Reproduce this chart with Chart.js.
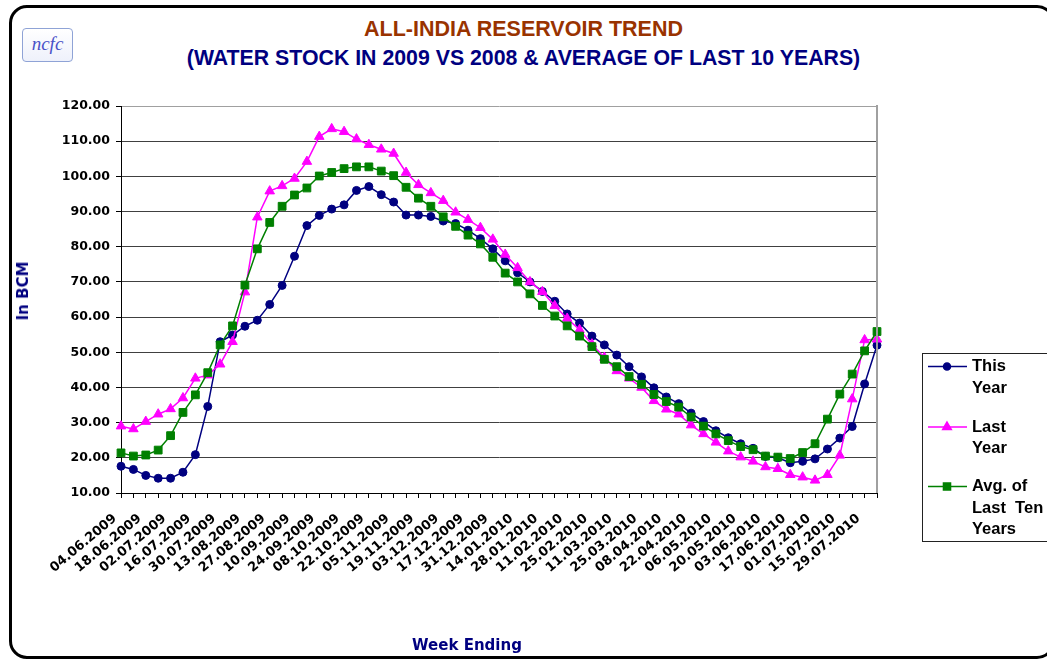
<!DOCTYPE html>
<html>
<head>
<meta charset="utf-8">
<script src="https://cdn.jsdelivr.net/npm/chart.js@4"></script>
<style>
  body { margin: 0; background: #fff; }
  #page { position: relative; width: 1047px; height: 659px; overflow: hidden; background: #fff; }
  #frame { position: absolute; left: 9px; top: 5px; width: 1040px; height: 648px; border: 3px solid #000; border-radius: 18px; }
  #logo { position: absolute; left: 22px; top: 28px; width: 49px; height: 32px; border: 1px solid #8fa3d6; border-radius: 4px;
    background: linear-gradient(#ffffff, #eef1fb); font: italic 19px "Liberation Serif", "DejaVu Serif", serif; color: #4a52c8;
    text-align: center; line-height: 30px; }
  .title { position: absolute; left: 0; width: 1047px; text-align: center; font-family: "Liberation Sans", Arial, sans-serif; font-weight: bold; white-space: nowrap; }
  #t1 { top: 16px; font-size: 21.5px; color: #993300; line-height: 26px; }
  #t2 { top: 45px; font-size: 21.3px; color: #000080; line-height: 26px; }
  #ytitle { position: absolute; left: 23px; top: 291px; transform: translate(-50%, -50%) rotate(-90deg); font: bold 15px "DejaVu Sans", sans-serif; color: #000080; white-space: nowrap; }
  #xtitle { position: absolute; left: 467px; top: 645px; transform: translate(-50%, -50%); font: bold 15px "DejaVu Sans", sans-serif; color: #000080; white-space: nowrap; }
  canvas { position: absolute; left: 0; top: 0; }
</style>
</head>
<body>
<div id="page">
  <div id="frame"></div>
  <div id="logo">ncfc</div>
  <div class="title" id="t1">ALL-INDIA RESERVOIR TREND</div>
  <div class="title" id="t2">(WATER STOCK IN 2009 VS 2008 &amp; AVERAGE OF LAST 10 YEARS)</div>
  <canvas id="reservoir-chart" width="1047" height="659"></canvas>
  <div id="ytitle">In BCM</div>
  <div id="xtitle">Week Ending</div>
</div>
<script>
const weeks = [
  "04.06.2009", "11.06.2009", "18.06.2009", "25.06.2009", "02.07.2009", "09.07.2009",
  "16.07.2009", "23.07.2009", "30.07.2009", "06.08.2009", "13.08.2009", "20.08.2009",
  "27.08.2009", "03.09.2009", "10.09.2009", "17.09.2009", "24.09.2009", "01.10.2009",
  "08.10.2009", "15.10.2009", "22.10.2009", "29.10.2009", "05.11.2009", "12.11.2009",
  "19.11.2009", "26.11.2009", "03.12.2009", "10.12.2009", "17.12.2009", "24.12.2009",
  "31.12.2009", "07.01.2010", "14.01.2010", "21.01.2010", "28.01.2010", "04.02.2010",
  "11.02.2010", "18.02.2010", "25.02.2010", "04.03.2010", "11.03.2010", "18.03.2010",
  "25.03.2010", "01.04.2010", "08.04.2010", "15.04.2010", "22.04.2010", "29.04.2010",
  "06.05.2010", "13.05.2010", "20.05.2010", "27.05.2010", "03.06.2010", "10.06.2010",
  "17.06.2010", "24.06.2010", "01.07.2010", "08.07.2010", "15.07.2010", "22.07.2010",
  "29.07.2010", "05.08.2010"];

const thisYear = [
  17.6, 16.7, 15.0, 14.2, 14.2, 15.9, 20.9, 34.6, 53.0, 54.9,
  57.4, 59.1, 63.6, 69.0, 77.3, 86.0, 88.9, 90.7, 91.9, 96.0,
  97.1, 94.8, 92.7, 89.0, 89.0, 88.6, 87.3, 86.6, 84.7, 82.3,
  79.4, 76.0, 72.6, 70.0, 67.3, 64.5, 60.9, 58.3, 54.6, 52.1,
  49.2, 45.9, 43.0, 39.9, 37.3, 35.4, 32.7, 30.3, 27.7, 25.7,
  24.0, 22.7, 20.4, 20.0, 18.6, 19.0, 19.7, 22.5, 25.6, 28.9,
  41.0, 52.0];

const lastYear = [
  29.0, 28.2, 30.3, 32.4, 33.9, 37.0, 42.6, 43.5, 46.6, 53.0,
  67.1, 88.4, 95.8, 97.3, 99.4, 104.2, 111.3, 113.5, 112.7, 110.6,
  109.0, 107.7, 106.5, 101.1, 97.6, 95.3, 93.1, 89.8, 87.7, 85.4,
  82.1, 77.8, 74.0, 70.0, 67.2, 63.2, 59.6, 56.4, 52.3, 48.5,
  44.7, 42.6, 40.0, 36.2, 33.8, 32.4, 29.3, 26.8, 24.4, 21.9,
  20.2, 19.0, 17.4, 16.9, 15.2, 14.5, 13.6, 15.2, 20.7, 36.7,
  53.5, 53.7];

const tenYearAvg = [
  21.4, 20.5, 20.8, 22.2, 26.3, 32.9, 37.9, 44.2, 52.1, 57.5,
  69.1, 79.4, 86.9, 91.5, 94.7, 96.7, 100.1, 101.1, 102.2, 102.7,
  102.7, 101.5, 100.2, 96.9, 93.8, 91.5, 88.5, 85.8, 83.3, 80.8,
  77.0, 72.5, 70.0, 66.6, 63.3, 60.3, 57.5, 54.6, 51.6, 48.0,
  45.9, 43.1, 40.9, 38.0, 36.0, 34.4, 31.6, 29.0, 26.8, 24.9,
  23.2, 22.3, 20.5, 20.2, 19.8, 21.5, 24.0, 31.0, 38.1, 43.8,
  50.4, 55.9];

const legendLines = [["This", "Year"], ["Last", "Year"], ["Avg. of", "Last  Ten", "Years"]];

// plot border on the right + the boxed legend at the side
const sideBits = {
  id: "sideBits",
  afterDraw(chart) {
    const c = chart.ctx;
    const a = chart.chartArea;
    c.save();
    c.strokeStyle = "#a0a0a0";
    c.lineWidth = 2;
    c.beginPath();
    c.moveTo(a.right, a.top - 1);
    c.lineTo(a.right, a.bottom);
    c.stroke();

    c.strokeStyle = "#222";
    c.lineWidth = 1;
    c.strokeRect(922.5, 353.5, 200, 188);
    c.font = "bold 16.5px 'Liberation Sans', Arial, sans-serif";
    c.textBaseline = "middle";
    const tops = [366.5, 427, 486.5];
    chart.data.datasets.forEach((ds, i) => {
      const y = tops[i];
      c.strokeStyle = ds.borderColor;
      c.fillStyle = ds.backgroundColor;
      c.lineWidth = 1.5;
      c.beginPath();
      c.moveTo(928, y);
      c.lineTo(967, y);
      c.stroke();
      Chart.helpers.drawPoint(c, {
        pointStyle: ds.pointStyle, radius: ds.pointRadius - 0.5, borderWidth: 1 },
      947, y);
      c.fillStyle = "#000";
      legendLines[i].forEach((t, k) => c.fillText(t, 972, y + k * 21.7));
    });
    c.restore();
  } };


const ctx = document.getElementById("reservoir-chart").getContext("2d");
const chart = new Chart(ctx, {
  type: "line",
  data: {
    labels: weeks,
    datasets: [
    {
      label: "This Year",
      data: thisYear,
      borderColor: "#000080",
      backgroundColor: "#000080",
      borderWidth: 1.5,
      pointStyle: "circle",
      pointRadius: 4,
      pointBorderWidth: 1,
      tension: 0,
      order: 3 },

    {
      label: "Last Year",
      data: lastYear,
      borderColor: "#ff00ff",
      backgroundColor: "#ff00ff",
      borderWidth: 1.5,
      pointStyle: "triangle",
      pointRadius: 5.5,
      pointBorderWidth: 1,
      tension: 0,
      order: 2 },

    {
      label: "Avg. of Last Ten Years",
      data: tenYearAvg,
      borderColor: "#008000",
      backgroundColor: "#008000",
      borderWidth: 1.5,
      pointStyle: "rect",
      pointRadius: 5.5,
      pointBorderWidth: 1,
      tension: 0,
      order: 1 }] },



  options: {
    responsive: false,
    animation: false,
    layout: {
      padding: { top: 106, right: 170, bottom: 0, left: 0 } },

    scales: {
      x: {
        afterFit: s => {s.height = 166;},
        ticks: {
          autoSkip: false,
          minRotation: 40,
          maxRotation: 40,
          padding: 13,
          labelOffset: -6,
          color: "#000",
          font: { family: "'DejaVu Sans', sans-serif", size: 13, weight: "bold" },
          callback: (v, i) => i % 2 === 0 ? weeks[i] : "" },

        grid: {
          drawOnChartArea: false,
          drawTicks: true,
          tickLength: 5,
          color: "#000" },

        border: { color: "#000", width: 1 } },

      y: {
        min: 10,
        max: 120,
        afterFit: s => {s.width = 121;},
        ticks: {
          stepSize: 10,
          padding: 6,
          color: "#000",
          font: { family: "'DejaVu Sans', sans-serif", size: 12.5, weight: "bold" },
          callback: v => v.toFixed(2) },

        grid: {
          color: c => c.tick && c.tick.value === 120 ? "#a0a0a0" : "#404040",
          tickColor: "#000",
          tickLength: 5 },

        border: { color: "#000", width: 1 } } },


    plugins: {
      legend: { display: false },
      tooltip: { enabled: false } } },


  plugins: [sideBits] });
</script>
</body>
</html>
